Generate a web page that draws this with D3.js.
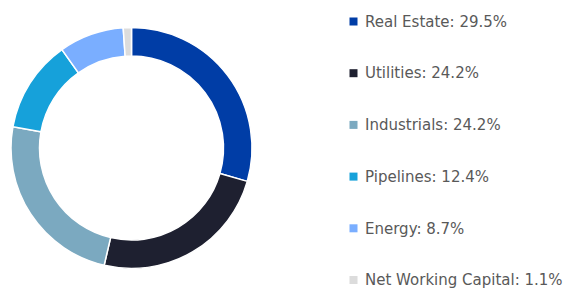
<!DOCTYPE html>
<html><head><meta charset="utf-8">
<script src="https://cdn.jsdelivr.net/npm/d3@7"></script>
<style>body{margin:0;background:#fff}svg{display:block}</style>
</head><body>
<svg id="c" width="573" height="288"></svg>
<script>
const categories = ["Real Estate","Utilities","Industrials","Pipelines","Energy","Net Working Capital"];
const values = [29.5,24.2,24.2,12.4,8.7,1.1];
const colors = ["#003DA6","#1E2030","#7BA9C0","#16A1DA","#7AAEFF","#DCDCDC"];

const svg = d3.select("#c");
const data = categories.map((c,i)=>({name:c,value:values[i],color:colors[i]}));
const pie = d3.pie().sort(null).value(d=>d.value);
const arc = d3.arc().innerRadius(92).outerRadius(120.5);
const g = svg.append("g").attr("transform","translate(131.5,148)");
g.selectAll("path").data(pie(data)).join("path")
  .attr("d",arc).attr("fill",d=>d.data.color)
  .attr("stroke","#fff").attr("stroke-width",1.5);

const y = d3.scalePoint().domain(categories).range([21.5,280]);
const lg = svg.append("g");
const row = lg.selectAll("g").data(data).join("g")
  .attr("transform",d=>`translate(349.5,${y(d.name)})`);
row.append("rect").attr("x",0).attr("y",-4).attr("width",8).attr("height",8).attr("fill",d=>d.color);
row.append("text").attr("x",15.5).attr("y",5.2)
  .attr("font-family","DejaVu Sans, sans-serif").attr("font-size",15).attr("fill","#595959")
  .text(d=>`${d.name}: ${d.value.toFixed(1)}%`);
</script>
</body></html>
